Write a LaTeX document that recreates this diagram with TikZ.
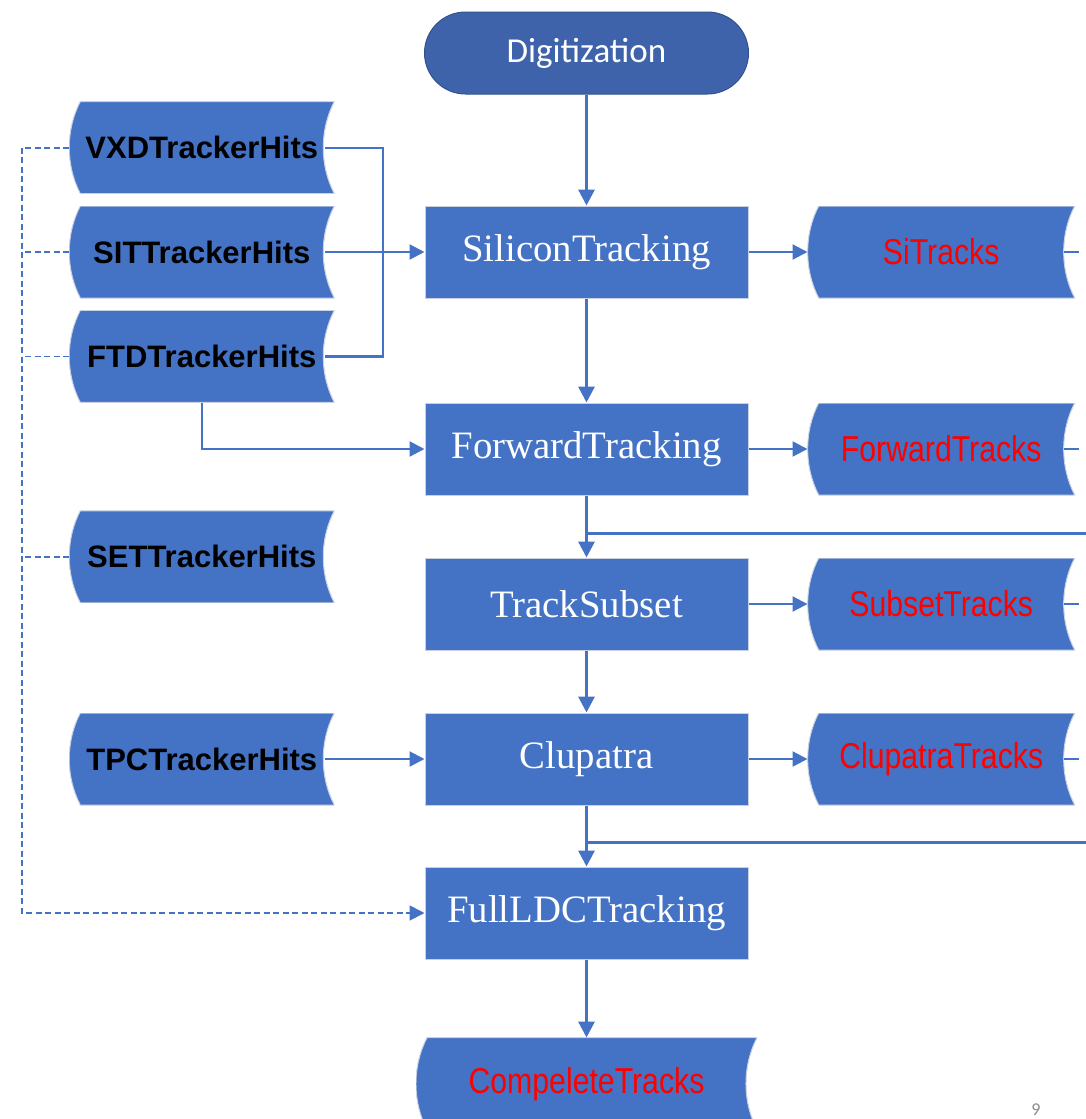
\documentclass[tikz,border=0pt]{standalone}
\usepackage{fontspec}
\setmainfont{Liberation Serif}
\newfontfamily\hitsfont{Liberation Sans}
\newfontfamily\trackfont[FakeStretch=0.84]{Liberation Sans}
\newfontfamily\termfont{Carlito}
\usetikzlibrary{positioning,arrows.meta}
\definecolor{procblue}{HTML}{4472C4}
\definecolor{termblue}{HTML}{3F63AB}
\definecolor{termline}{HTML}{2F528F}
\definecolor{boxline}{HTML}{C9D1E0}
\definecolor{trackred}{HTML}{FF0000}
\definecolor{pagegray}{HTML}{8C8C8C}
\tikzset{
  terminal/.style={draw=termline, line width=1pt, fill=termblue, rounded corners=41pt,
    minimum width=324pt, minimum height=82pt, text=white,
    font=\termfont\fontsize{35}{42}\selectfont},
  process/.style={draw=boxline, line width=1pt, fill=procblue, inner sep=0pt,
    minimum width=323pt, minimum height=92pt, text=white,
    font=\fontsize{38.8}{46}\selectfont},
  store/.style={minimum height=92pt, inner sep=0pt,
    path picture={
      \fill[procblue, draw=boxline, line width=1pt]
        ([xshift=11pt]path picture bounding box.north west) -- (path picture bounding box.north east)
        .. controls ([xshift=-14.7pt,yshift=-28pt]path picture bounding box.north east)
        and ([xshift=-14.7pt,yshift=28pt]path picture bounding box.south east) .. (path picture bounding box.south east)
        -- ([xshift=11pt]path picture bounding box.south west)
        .. controls ([xshift=-3.7pt,yshift=28pt]path picture bounding box.south west)
        and ([xshift=-3.7pt,yshift=-28pt]path picture bounding box.north west) .. ([xshift=11pt]path picture bounding box.north west)
        -- cycle;}},
  hits/.style={store, minimum width=265pt, font=\hitsfont\bfseries\fontsize{31}{36}\selectfont},
  tracks/.style={store, minimum width=267pt, text=trackred, font=\trackfont\fontsize{36}{42}\selectfont},
  flow/.style={draw=procblue, line width=3.2pt, -{Triangle[length=16pt,width=16pt]}},
  feed/.style={draw=procblue, line width=2.2pt, -{Triangle[length=15pt,width=15pt]}},
  link/.style={draw=procblue, line width=2.2pt},
  spare/.style={draw=procblue, line width=1.8pt, dash pattern=on 6pt off 3.5pt},
}
\begin{document}
\begin{tikzpicture}[x=1pt,y=-1pt]
  \useasboundingbox (0,0) rectangle (1086,1119);
  \clip (0,0) rectangle (1086,1119);

  \node[terminal] (digi) at (586.5,53) {Digitization};
  \node[process, below=111pt of digi] (silicon) {SiliconTracking};
  \node[process, below=104pt of silicon] (forward) {ForwardTracking};
  \node[process, below=62pt of forward] (subset) {TrackSubset};
  \node[process, below=62pt of subset] (clupatra) {Clupatra};
  \node[process, below=61pt of clupatra] (fullldc) {FullLDCTracking};
  \node[tracks, minimum width=341pt, below=78pt of fullldc] (complete) {CompeleteTracks};

  \node[hits, left=90pt of silicon] (sit) {SITTrackerHits};
  \node[hits, above=12pt of sit] (vxd) {VXDTrackerHits};
  \node[hits, below=12pt of sit] (ftd) {FTDTrackerHits};
  \node[hits, below=108pt of ftd] (set) {SETTrackerHits};
  \node[hits, left=90pt of clupatra] (tpc) {TPCTrackerHits};

  \node[tracks, right=59pt of silicon] (sitrk) {SiTracks};
  \node[tracks, right=59pt of forward] (fwtrk) {ForwardTracks};
  \node[tracks, right=59pt of subset] (subtrk) {SubsetTracks};
  \node[tracks, right=59pt of clupatra] (clutrk) {ClupatraTracks};

  \node[text=pagegray, anchor=base, font=\termfont\fontsize{18}{22}\selectfont] (page) at (1036,1115) {9};

  \coordinate (knee) at (383,251);
  \coordinate (rail) at (22,0);
  \coordinate (rim) at (1090,0);
  \coordinate (join1) at ([yshift=-38pt]forward.south);
  \coordinate (join2) at ([yshift=-37pt]clupatra.south);

  \draw[flow] (digi) -- (silicon);
  \draw[flow] (silicon) -- (forward);
  \draw[flow] (forward) -- (subset);
  \draw[flow] (subset) -- (clupatra);
  \draw[flow] (clupatra) -- (fullldc);
  \draw[flow] (fullldc) -- (complete);

  \draw[feed] (silicon) -- (sitrk);
  \draw[feed] (forward) -- (fwtrk);
  \draw[feed] (subset) -- (subtrk);
  \draw[feed] (clupatra) -- (clutrk);

  \draw[link] ([xshift=-10pt]vxd.east) -| (knee) |- ([xshift=-10pt]ftd.east);
  \draw[feed] ([xshift=-10pt]sit.east) -- (silicon);
  \draw[feed] (ftd.south) |- (forward.west);
  \draw[feed] ([xshift=-10pt]tpc.east) -- (clupatra);

  \draw[link] (join1) -- (join1 -| rim);
  \draw[link] (join2) -- (join2 -| rim);
  \foreach \t in {sitrk,fwtrk,subtrk,clutrk}
    \draw[link] ([xshift=-11pt]\t.east) -- ([xshift=-11pt]\t.east -| rim);

  \foreach \h in {vxd,sit,ftd,set}
    \draw[spare] (\h.west) -- (\h.west -| rail);
  \draw[spare, -{Triangle[length=15pt,width=15pt]}] (vxd.west -| rail) |- (fullldc.west);
\end{tikzpicture}
\end{document}
